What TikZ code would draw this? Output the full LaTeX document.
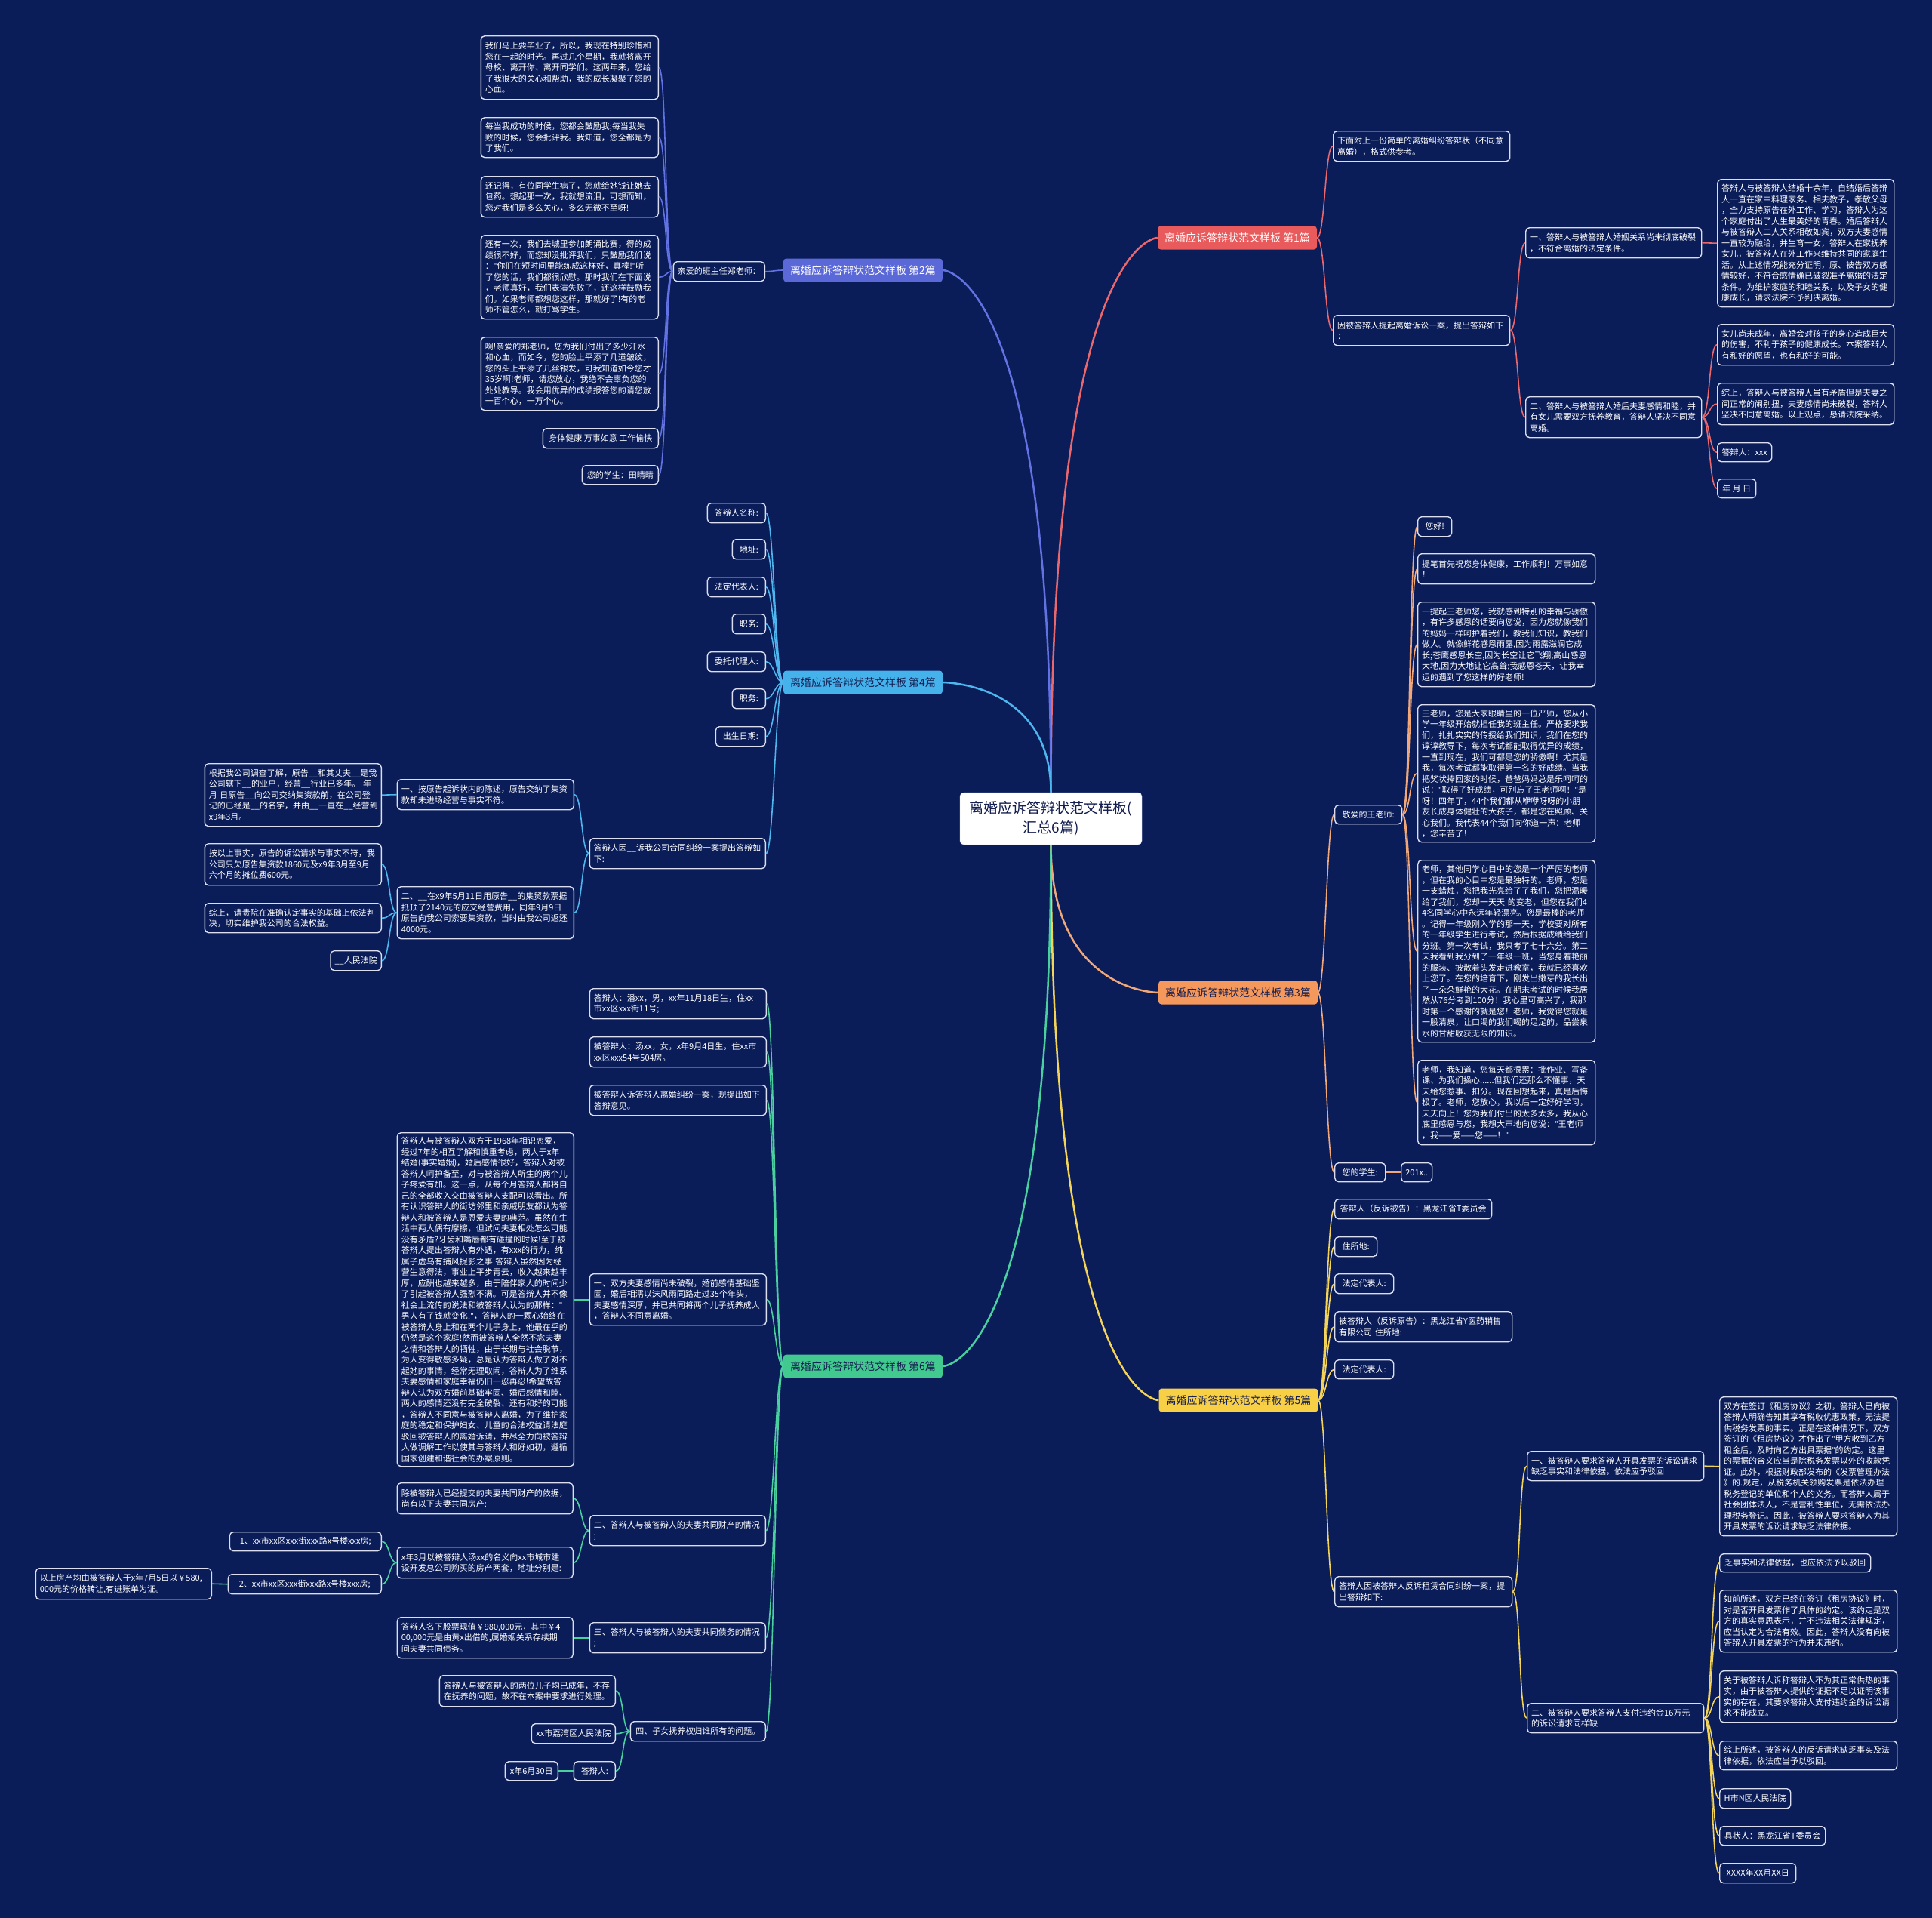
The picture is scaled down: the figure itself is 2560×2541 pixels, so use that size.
\documentclass[tikz,border=0pt]{standalone}
\usepackage{fontspec}
\setmainfont{Noto Sans CJK SC}
\newfontfamily\qf{Noto Sans}
\newcommand\qt{{\qf"}}
\definecolor{bg}{RGB}{11,29,89}
\definecolor{boxline}{RGB}{218,222,238}
\definecolor{navytext}{RGB}{20,30,80}
\definecolor{fa}{RGB}{232,90,92}\definecolor{la}{RGB}{232,104,110}
\definecolor{fb}{RGB}{90,104,216}\definecolor{lb}{RGB}{98,114,226}
\definecolor{fc}{RGB}{245,152,92}\definecolor{lc}{RGB}{240,168,122}
\definecolor{fd}{RGB}{70,178,236}\definecolor{ld}{RGB}{78,182,238}
\definecolor{fe}{RGB}{248,208,70}\definecolor{le}{RGB}{244,212,88}
\definecolor{ff}{RGB}{66,201,143}\definecolor{lf}{RGB}{74,208,158}
\tikzset{
  tb/.style={draw=boxline, fill=bg, rounded corners=5pt, line width=1.4pt, text=white,
    font=\fontsize{11}{14.5}\selectfont, align=left, inner xsep=5.5pt, inner ysep=5pt},
  rt/.style={anchor=north west},
  lt/.style={anchor=north east},
  lab/.style={rounded corners=4pt, font=\fontsize{14}{16}\selectfont, minimum width=211pt,
    minimum height=31pt, inner sep=3pt},
  rootln/.style={line width=2.5pt},
  subln/.style={line width=1.6pt},
}
\newcommand\nd[6]{\pgfmathsetmacro\ndtw{#4-11}\node[tb,#1,text width=\ndtw pt,minimum height=#5pt] (#2) at (#3) {#6};}
\newcommand\sd[6]{\node[tb,#1,minimum width=#4pt,minimum height=#5pt] (#2) at (#3) {#6};}
\newcommand\conR[3]{\draw[subln,#1] (#2.east) .. controls +(10.5,0) and +(-10.5,0) .. (#3.west);}
\newcommand\conL[3]{\draw[subln,#1] (#2.west) .. controls +(-10.5,0) and +(10.5,0) .. (#3.east);}
\begin{document}
\begin{tikzpicture}[x=1pt,y=-1pt]
\fill[bg] (0,0) rectangle (2560,2541);
\useasboundingbox (0,0) rectangle (2560,2541);

% center and branch labels
\node[fill=white, draw={rgb,255:red,200;green,215;blue,245}, rounded corners=5pt, text=navytext,
  font=\fontsize{19}{26.5}\selectfont, align=center, minimum width=241pt, minimum height=69pt, inner sep=4pt]
  (ctr) at (1392.5,1084.5) {离婚应诉答辩状范文样板(\\汇总6篇)};
\node[lab, fill=fa, text=white] (L1) at (1639.5,315) {离婚应诉答辩状范文样板 第1篇};
\node[lab, fill=fb, text=white] (L2) at (1143.5,358) {离婚应诉答辩状范文样板 第2篇};
\node[lab, fill=fc, text=navytext] (L3) at (1640.5,1315) {离婚应诉答辩状范文样板 第3篇};
\node[lab, fill=fd, text=navytext] (L4) at (1143.5,904) {离婚应诉答辩状范文样板 第4篇};
\node[lab, fill=fe, text=navytext] (L5) at (1641,1855) {离婚应诉答辩状范文样板 第5篇};
\node[lab, fill=ff, text=navytext] (L6) at (1143.5,1810) {离婚应诉答辩状范文样板 第6篇};

\draw[rootln,la] (ctr.north) .. controls (ctr.north|-L1.west) and (L1.west) .. (L1.west);
\draw[rootln,lb] (ctr.north) .. controls (ctr.north|-L2.east) and (L2.east) .. (L2.east);
\draw[rootln,ld] (ctr.north) .. controls (ctr.north|-L4.east) and (L4.east) .. (L4.east);
\draw[rootln,lc] (ctr.south) .. controls (ctr.south|-L3.west) and (L3.west) .. (L3.west);
\draw[rootln,le] (ctr.south) .. controls (ctr.south|-L5.west) and (L5.west) .. (L5.west);
\draw[rootln,lf] (ctr.south) .. controls (ctr.south|-L6.east) and (L6.east) .. (L6.east);

% ---------- Branch 1
\nd{rt}{b1a}{1766,173}{234}{40}{下面附上一份简单的离婚纠纷答辩状（不同意\\离婚），格式供参考。}
\nd{rt}{b1b}{1766,417}{234}{40}{因被答辩人提起离婚诉讼一案，提出答辩如下\\：}
\nd{rt}{b1b1}{2021,301}{233}{40}{一、答辩人与被答辩人婚姻关系尚未彻底破裂\\，不符合离婚的法定条件。}
\nd{rt}{b1b2}{2021,525}{233}{54}{二、答辩人与被答辩人婚后夫妻感情和睦，并\\有女儿需要双方抚养教育，答辩人坚决不同意\\离婚。}
\nd{rt}{b1b11}{2275,237}{234}{169}{答辩人与被答辩人结婚十余年，自结婚后答辩\\人一直在家中料理家务、相夫教子，孝敬父母\\，全力支持原告在外工作、学习，答辩人为这\\个家庭付出了人生最美好的青春。婚后答辩人\\与被答辩人二人关系相敬如宾，双方夫妻感情\\一直较为融洽，并生育一女，答辩人在家抚养\\女儿，被答辩人在外工作来维持共同的家庭生\\活。从上述情况能充分证明，原、被告双方感\\情较好，不符合感情确已破裂准予离婚的法定\\条件。为维护家庭的和睦关系，以及子女的健\\康成长，请求法院不予判决离婚。}
\nd{rt}{b1b21}{2275,429}{234}{54}{女儿尚未成年，离婚会对孩子的身心造成巨大\\的伤害，不利于孩子的健康成长。本案答辩人\\有和好的愿望，也有和好的可能。}
\nd{rt}{b1b22}{2275,507}{234}{55}{综上，答辩人与被答辩人虽有矛盾但是夫妻之\\间正常的闹别扭，夫妻感情尚未破裂，答辩人\\坚决不同意离婚。以上观点，恳请法院采纳。}
\sd{rt}{b1b23}{2275,586}{72}{25}{答辩人：xxx}
\sd{rt}{b1b24}{2275,634}{51}{25}{年 月 日}
\conR{la}{L1}{b1a}\conR{la}{L1}{b1b}
\conR{la}{b1b}{b1b1}\conR{la}{b1b}{b1b2}
\conR{la}{b1b1}{b1b11}
\conR{la}{b1b2}{b1b21}\conR{la}{b1b2}{b1b22}\conR{la}{b1b2}{b1b23}\conR{la}{b1b2}{b1b24}

% ---------- Branch 3
\sd{rt}{b3a}{1768,1066}{89}{25}{敬爱的王老师:}
\sd{rt}{b3b}{1768,1540}{67}{25}{您的学生:}
\sd{rt}{b3b1}{1856,1540}{41}{25}{201x..}
\sd{rt}{b3a1}{1878,684}{45}{26}{您好!}
\nd{rt}{b3a2}{1878,733}{235}{40}{提笔首先祝您身体健康，工作顺利！万事如意\\！}
\nd{rt}{b3a3}{1878,797}{235}{112}{一提起王老师您，我就感到特别的幸福与骄傲\\，有许多感恩的话要向您说，因为您就像我们\\的妈妈一样呵护着我们，教我们知识，教我们\\做人。就像鲜花感恩雨露,因为雨露滋润它成\\长;苍鹰感恩长空,因为长空让它飞翔;高山感恩\\大地,因为大地让它高耸;我感恩苍天，让我幸\\运的遇到了您这样的好老师!}
\nd{rt}{b3a4}{1878,933}{235}{182}{王老师，您是大家眼睛里的一位严师，您从小\\学一年级开始就担任我的班主任。严格要求我\\们，扎扎实实的传授给我们知识，我们在您的\\谆谆教导下，每次考试都能取得优异的成绩，\\一直到现在，我们可都是您的骄傲啊！尤其是\\我，每次考试都能取得第一名的好成绩。当我\\把奖状捧回家的时候，爸爸妈妈总是乐呵呵的\\说：\qt{}取得了好成绩，可别忘了王老师啊！\qt{}是\\呀！四年了，44个我们都从咿咿呀呀的小朋\\友长成身体健壮的大孩子，都是您在照顾、关\\心我们。我代表44个我们向你道一声：老师\\，您辛苦了！}
\nd{rt}{b3a5}{1878,1139}{235}{241}{老师，其他同学心目中的您是一个严厉的老师\\，但在我的心目中您是最独特的。老师，您是\\一支蜡烛，您把我光亮给了了我们，您把温暖\\给了我们，您却一天天 的变老，但您在我们4\\4名同学心中永远年轻漂亮。您是最棒的老师\\。记得一年级刚入学的那一天，学校要对所有\\的一年级学生进行考试，然后根据成绩给我们\\分班。第一次考试，我只考了七十六分。第二\\天我看到我分到了一年级一班，当您身着艳丽\\的服装、披散着头发走进教室，我就已经喜欢\\上您了。在您的培育下，刚发出嫩芽的我长出\\了一朵朵鲜艳的大花。在期末考试的时候我居\\然从76分考到100分！我心里可高兴了，我那\\时第一个感谢的就是您！老师，我觉得您就是\\一股清泉，让口渴的我们喝的足足的，品尝泉\\水的甘甜收获无限的知识。}
\nd{rt}{b3a6}{1878,1404}{235}{112}{老师，我知道，您每天都很累：批作业、写备\\课、为我们操心......但我们还那么不懂事，天\\天给您惹事、扣分。现在回想起来，真是后悔\\极了。老师，您放心，我以后一定好好学习，\\天天向上！您为我们付出的太多太多，我从心\\底里感恩与您，我想大声地向您说：\qt{}王老师\\，我——爱——您——！\qt{}}
\conR{lc}{L3}{b3a}\conR{lc}{L3}{b3b}\conR{lc}{b3b}{b3b1}
\conR{lc}{b3a}{b3a1}\conR{lc}{b3a}{b3a2}\conR{lc}{b3a}{b3a3}
\conR{lc}{b3a}{b3a4}\conR{lc}{b3a}{b3a5}\conR{lc}{b3a}{b3a6}

% ---------- Branch 5
\sd{rt}{b5a}{1768,1588}{208}{26}{答辩人（反诉被告）：黑龙江省T委员会}
\sd{rt}{b5b}{1768,1638}{56}{26}{住所地:}
\sd{rt}{b5c}{1768,1687}{78}{26}{法定代表人:}
\nd{rt}{b5d}{1768,1737}{235}{40}{被答辩人（反诉原告）：黑龙江省Y医药销售\\有限公司 住所地:}
\sd{rt}{b5e}{1768,1801}{78}{25}{法定代表人:}
\nd{rt}{b5f}{1768,2088}{235}{40}{答辩人因被答辩人反诉租赁合同纠纷一案，提\\出答辩如下:}
\nd{rt}{b5f1}{2023,1922}{234}{39}{一、被答辩人要求答辩人开具发票的诉讼请求\\缺乏事实和法律依据，依法应予驳回}
\nd{rt}{b5f2}{2023,2256}{234}{39}{二、被答辩人要求答辩人支付违约金16万元\\的诉讼请求同样缺}
\nd{rt}{b5f11}{2278,1850}{235}{184}{双方在签订《租房协议》之初，答辩人已向被\\答辩人明确告知其享有税收优惠政策，无法提\\供税务发票的事实。正是在这种情况下，双方\\签订的《租房协议》才作出了\qt{}甲方收到乙方\\租金后，及时向乙方出具票据\qt{}的约定。这里\\的票据的含义应当是除税务发票以外的收款凭\\证。此外，根据财政部发布的《发票管理办法\\》的.规定，从税务机关领购发票是依法办理\\税务登记的单位和个人的义务。而答辩人属于\\社会团体法人，不是营利性单位，无需依法办\\理税务登记。因此，被答辩人要求答辩人为其\\开具发票的诉讼请求缺乏法律依据。}
\sd{rt}{b5f21}{2278,2058}{200}{24}{乏事实和法律依据，也应依法予以驳回}
\nd{rt}{b5f22}{2278,2106}{235}{82}{如前所述，双方已经在签订《租房协议》时，\\对是否开具发票作了具体的约定。该约定是双\\方的真实意思表示，并不违法相关法律规定，\\应当认定为合法有效。因此，答辩人没有向被\\答辩人开具发票的行为并未违约。}
\nd{rt}{b5f23}{2278,2213}{235}{68}{关于被答辩人诉称答辩人不为其正常供热的事\\实，由于被答辩人提供的证据不足以证明该事\\实的存在，其要求答辩人支付违约金的诉讼请\\求不能成立。}
\nd{rt}{b5f24}{2278,2306}{235}{38}{综上所述，被答辩人的反诉请求缺乏事实及法\\律依据，依法应当予以驳回。}
\sd{rt}{b5f25}{2278,2369}{94}{26}{H市N区人民法院}
\sd{rt}{b5f26}{2278,2419}{140}{25}{具状人：黑龙江省T委员会}
\sd{rt}{b5f27}{2278,2468}{101}{26}{XXXX年XX月XX日}
\conR{le}{L5}{b5a}\conR{le}{L5}{b5b}\conR{le}{L5}{b5c}\conR{le}{L5}{b5d}\conR{le}{L5}{b5e}\conR{le}{L5}{b5f}
\conR{le}{b5f}{b5f1}\conR{le}{b5f}{b5f2}\conR{le}{b5f1}{b5f11}
\conR{le}{b5f2}{b5f21}\conR{le}{b5f2}{b5f22}\conR{le}{b5f2}{b5f23}\conR{le}{b5f2}{b5f24}
\conR{le}{b5f2}{b5f25}\conR{le}{b5f2}{b5f26}\conR{le}{b5f2}{b5f27}

% ---------- Branch 2
\sd{lt}{b2p}{1014,346}{121}{26}{亲爱的班主任郑老师：}
\nd{lt}{b2a}{873,47}{235}{84}{我们马上要毕业了，所以，我现在特别珍惜和\\您在一起的时光。再过几个星期，我就将离开\\母校、离开你、离开同学们。这两年来，您给\\了我很大的关心和帮助，我的成长凝聚了您的\\心血。}
\nd{lt}{b2b}{873,155}{235}{53}{每当我成功的时候，您都会鼓励我;每当我失\\败的时候，您会批评我。我知道，您全都是为\\了我们。}
\nd{lt}{b2c}{873,233}{235}{54}{还记得，有位同学生病了，您就给她钱让她去\\包药。想起那一次，我就想流泪，可想而知，\\您对我们是多么关心，多么无微不至呀!}
\nd{lt}{b2d}{873,311}{235}{111}{还有一次，我们去城里参加朗诵比赛，得的成\\绩很不好，而您却没批评我们，只鼓励我们说\\：\qt{}你们在短时间里能练成这样好，真棒!\qt{}听\\了您的话，我们都很欣慰。那时我们在下面说\\，老师真好，我们表演失败了，还这样鼓励我\\们。如果老师都想您这样，那就好了!有的老\\师不管怎么，就打骂学生。}
\nd{lt}{b2e}{873,446}{235}{97}{啊!亲爱的郑老师，您为我们付出了多少汗水\\和心血，而如今，您的脸上平添了几道皱纹，\\您的头上平添了几丝银发，可我知道如今您才\\35岁啊!老师，请您放心，我绝不会辜负您的\\处处教导。我会用优异的成绩报答您的请您放\\一百个心，一万个心。}
\sd{lt}{b2f}{873,567}{153}{26}{身体健康 万事如意 工作愉快}
\sd{lt}{b2g}{873,616}{101}{25}{您的学生：田晴晴}
\conL{lb}{L2}{b2p}
\conL{lb}{b2p}{b2a}\conL{lb}{b2p}{b2b}\conL{lb}{b2p}{b2c}\conL{lb}{b2p}{b2d}
\conL{lb}{b2p}{b2e}\conL{lb}{b2p}{b2f}\conL{lb}{b2p}{b2g}

% ---------- Branch 4
\sd{lt}{f1}{1015,666}{77}{26}{答辩人名称:}
\sd{lt}{f2}{1015,714}{44}{26}{地址:}
\sd{lt}{f3}{1015,764}{77}{26}{法定代表人:}
\sd{lt}{f4}{1015,813}{44}{26}{职务:}
\sd{lt}{f5}{1015,863}{77}{26}{委托代理人:}
\sd{lt}{f6}{1015,912}{44}{26}{职务:}
\sd{lt}{f7}{1015,962}{66}{26}{出生日期:}
\nd{lt}{b4p}{1015,1110}{233}{40}{答辩人因\_\_诉我公司合同纠纷一案提出答辩如\\下:}
\nd{lt}{b4a}{761,1032}{234}{40}{一、按原告起诉状内的陈述，原告交纳了集资\\款却未进场经营与事实不符。}
\nd{lt}{b4b}{761,1174}{234}{69}{二、\_\_在x9年5月11日用原告\_\_的集贸款票据\\抵顶了2140元的应交经营费用，同年9月9日\\原告向我公司索要集资款，当时由我公司返还\\4000元。}
\nd{lt}{b4a1}{506,1011}{234}{83}{根据我公司调查了解，原告\_\_和其丈夫\_\_是我\\公司辖下\_\_的业户，经营\_\_行业已多年。 年\\月 日原告\_\_向公司交纳集资款前，在公司登\\记的已经是\_\_的名字，并由\_\_一直在\_\_经营到\\x9年3月。}
\nd{lt}{b4b1}{506,1117}{234}{55}{按以上事实，原告的诉讼请求与事实不符，我\\公司只欠原告集资款1860元及x9年3月至9月\\六个月的摊位费600元。}
\nd{lt}{b4b2}{506,1196}{234}{39}{综上，请贵院在准确认定事实的基础上依法判\\决，切实维护我公司的合法权益。}
\sd{lt}{b4b3}{506,1259}{66}{26}{\_\_人民法院}
\conL{ld}{L4}{f1}\conL{ld}{L4}{f2}\conL{ld}{L4}{f3}\conL{ld}{L4}{f4}
\conL{ld}{L4}{f5}\conL{ld}{L4}{f6}\conL{ld}{L4}{f7}\conL{ld}{L4}{b4p}
\conL{ld}{b4p}{b4a}\conL{ld}{b4p}{b4b}\conL{ld}{b4a}{b4a1}
\conL{ld}{b4b}{b4b1}\conL{ld}{b4b}{b4b2}\conL{ld}{b4b}{b4b3}

% ---------- Branch 6
\nd{lt}{b6a}{1016,1309}{234}{40}{答辩人：潘xx，男，xx年11月18日生，住xx\\市xx区xxx街11号;}
\nd{lt}{b6b}{1016,1373}{234}{40}{被答辩人：汤xx，女，x年9月4日生，住xx市\\xx区xxx54号504房。}
\nd{lt}{b6c}{1016,1437}{234}{40}{被答辩人诉答辩人离婚纠纷一案，现提出如下\\答辩意见。}
\nd{lt}{b6d}{1016,1687}{234}{68}{一、双方夫妻感情尚未破裂，婚前感情基础坚\\固，婚后相濡以沫风雨同路走过35个年头，\\夫妻感情深厚，并已共同将两个儿子抚养成人\\，答辩人不同意离婚。}
\nd{lt}{b6d1}{761,1500}{234}{442}{答辩人与被答辩人双方于1968年相识恋爱，\\经过7年的相互了解和慎重考虑，两人于x年\\结婚(事实婚姻)，婚后感情很好，答辩人对被\\答辩人呵护备至，对与被答辩人所生的两个儿\\子疼爱有加。这一点，从每个月答辩人都将自\\己的全部收入交由被答辩人支配可以看出。所\\有认识答辩人的街坊邻里和亲戚朋友都认为答\\辩人和被答辩人是恩爱夫妻的典范。虽然在生\\活中两人偶有摩擦，但试问夫妻相处怎么可能\\没有矛盾?牙齿和嘴唇都有碰撞的时候!至于被\\答辩人提出答辩人有外遇，有xxx的行为，纯\\属子虚乌有捕风捉影之事!答辩人虽然因为经\\营生意得法，事业上平步青云，收入越来越丰\\厚，应酬也越来越多，由于陪伴家人的时间少\\了引起被答辩人强烈不满。可是答辩人并不像\\社会上流传的说法和被答辩人认为的那样：\qt{}\\男人有了钱就变化!\qt{}，答辩人的一颗心始终在\\被答辩人身上和在两个儿子身上，他最在乎的\\仍然是这个家庭!然而被答辩人全然不念夫妻\\之情和答辩人的牺牲，由于长期与社会脱节，\\为人变得敏感多疑，总是认为答辩人做了对不\\起她的事情，经常无理取闹，答辩人为了维系\\夫妻感情和家庭幸福仍旧一忍再忍!希望故答\\辩人认为双方婚前基础牢固、婚后感情和睦、\\两人的感情还没有完全破裂、还有和好的可能\\，答辩人不同意与被答辩人离婚，为了维护家\\庭的稳定和保护妇女、儿童的合法权益请法庭\\驳回被答辩人的离婚诉请，并尽全力向被答辩\\人做调解工作以使其与答辩人和好如初，遵循\\国家创建和谐社会的办案原则。}
\nd{lt}{b6e}{1015,2007}{233}{40}{二、答辩人与被答辩人的夫妻共同财产的情况\\;}
\nd{lt}{b6e1}{760,1964}{233}{41}{除被答辩人已经提交的夫妻共同财产的依据，\\尚有以下夫妻共同房产:}
\nd{lt}{b6e2}{760,2049}{233}{41}{x年3月以被答辩人汤xx的名义向xx市城市建\\设开发总公司购买的房产两套，地址分别是:}
\sd{lt}{b6e21}{506,2029}{201}{25}{1、xx市xx区xxx街xxx路x号楼xxx房;}
\sd{lt}{b6e22}{506,2085}{203}{26}{2、xx市xx区xxx街xxx路x号楼xxx房;}
\nd{lt}{b6e221}{281,2077}{233}{41}{以上房产均由被答辩人于x年7月5日以￥580,\\000元的价格转让,有进账单为证。}
\nd{lt}{b6f}{1015,2149}{233}{40}{三、答辩人与被答辩人的夫妻共同债务的情况\\;}
\nd{lt}{b6f1}{760,2142}{233}{54}{答辩人名下股票现值￥980,000元，其中￥4\\00,000元是由黄x出借的,属婚姻关系存续期\\间夫妻共同债务。}
\sd{lt}{b6g}{1015,2280}{179}{26}{四、子女抚养权归谁所有的问题。}
\nd{lt}{b6g1}{816,2219}{233}{41}{答辩人与被答辩人的两位儿子均已成年，不存\\在抚养的问题，故不在本案中要求进行处理。}
\sd{lt}{b6g2}{816,2283}{111}{26}{xx市荔湾区人民法院}
\sd{lt}{b6g3}{816,2333}{55}{25}{答辩人:}
\sd{lt}{b6g31}{740,2333}{70}{25}{x年6月30日}
\conL{lf}{L6}{b6a}\conL{lf}{L6}{b6b}\conL{lf}{L6}{b6c}\conL{lf}{L6}{b6d}
\conL{lf}{L6}{b6e}\conL{lf}{L6}{b6f}\conL{lf}{L6}{b6g}
\conL{lf}{b6d}{b6d1}
\conL{lf}{b6e}{b6e1}\conL{lf}{b6e}{b6e2}
\conL{lf}{b6e2}{b6e21}\conL{lf}{b6e2}{b6e22}\conL{lf}{b6e22}{b6e221}
\conL{lf}{b6f}{b6f1}
\conL{lf}{b6g}{b6g1}\conL{lf}{b6g}{b6g2}\conL{lf}{b6g}{b6g3}\conL{lf}{b6g3}{b6g31}
\end{tikzpicture}
\end{document}
